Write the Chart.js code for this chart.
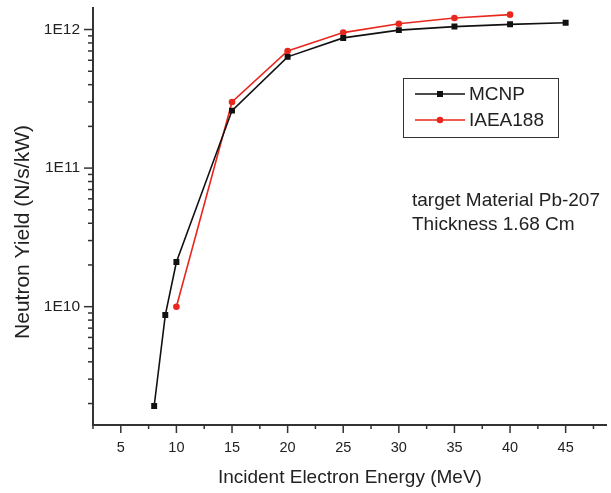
<!DOCTYPE html>
<html>
<head>
<meta charset="utf-8">
<script src="https://cdn.jsdelivr.net/npm/chart.js@4"></script>
<style>
  body { margin: 0; background: #fff; }
  #wrap { width: 611px; height: 493px; }
</style>
</head>
<body>
<div id="wrap"><canvas id="yieldChart" width="611" height="493"></canvas></div>
<script>
'use strict';

const mcnpEnergy = [8, 9, 10, 15, 20, 25, 30, 35, 40, 45];
const mcnpYield = [1.92e9, 8.7e9, 2.1e10, 2.6e11, 6.35e11, 8.7e11, 9.9e11, 1.05e12, 1.09e12, 1.12e12];
const iaeaEnergy = [10, 15, 20, 25, 30, 35, 40];
const iaeaYield = [1.0e10, 3.0e11, 7.0e11, 9.5e11, 1.1e12, 1.21e12, 1.28e12];
const xTicks = [5, 10, 15, 20, 25, 30, 35, 40, 45];
const yTicks = [1e10, 1e11, 1e12];
const yTitle = 'Neutron Yield (N/s/kW)';
const noteLines = ['target Material Pb-207', 'Thickness 1.68 Cm'];

const FONT = 'Liberation Sans, Arial, sans-serif';
const AXIS = '#333';

const ctx = document.getElementById('yieldChart');

// tick marks (major + minor), y title, legend box and the note text
const decorations = {
  id: 'decorations',
  afterDraw(chart) {
    const c = chart.ctx;
    const xs = chart.scales.x;
    const ys = chart.scales.y;
    const area = chart.chartArea;
    c.save();
    c.strokeStyle = AXIS;
    c.lineWidth = 1.5;

    // x ticks every 2.5
    for (let v = 2.5; v <= xs.max; v += 2.5) {
      const px = xs.getPixelForValue(v);
      const major = v % 5 === 0;
      c.beginPath();
      c.moveTo(px, area.bottom);
      c.lineTo(px, area.bottom + (major ? 8 : 4));
      c.stroke();
    }
    // y ticks: decades major, 2..9 minor
    for (let d = 1e9; d <= 1e12; d *= 10) {
      for (let k = 1; k <= 9; k++) {
        const v = d * k;
        if (v < ys.min || v > ys.max) continue;
        const py = ys.getPixelForValue(v);
        c.beginPath();
        c.moveTo(area.left, py);
        c.lineTo(area.left - (k === 1 ? 9 : 5), py);
        c.stroke();
      }
    }

    // y axis title (sits a bit below the axis middle in the original)
    c.save();
    c.translate(23, 232);
    c.rotate(-Math.PI / 2);
    c.font = '21px ' + FONT;
    c.fillStyle = '#222';
    c.textAlign = 'center';
    c.textBaseline = 'middle';
    c.fillText(yTitle, 0, 0);
    c.restore();

    // legend
    const lx = 403, ly = 78, lw = 155, lh = 59;
    c.lineWidth = 1;
    c.strokeStyle = '#333';
    c.strokeRect(lx + 0.5, ly + 0.5, lw, lh);
    c.font = '19px ' + FONT;
    c.textBaseline = 'middle';
    chart.data.datasets.forEach((ds, i) => {
      const rowY = ly + 16 + i * 26;
      c.strokeStyle = ds.borderColor;
      c.lineWidth = 1.5;
      c.beginPath();
      c.moveTo(lx + 12, rowY);
      c.lineTo(lx + 62, rowY);
      c.stroke();
      c.fillStyle = ds.pointBackgroundColor;
      if (ds.pointStyle === 'rect') {
        c.fillRect(lx + 37 - 3, rowY - 3, 6, 6);
      } else {
        c.beginPath();
        c.arc(lx + 37, rowY, 3.3, 0, Math.PI * 2);
        c.fill();
      }
      c.fillStyle = '#222';
      c.fillText(ds.label, lx + 66, rowY + 1);
    });

    // note
    c.font = '19px ' + FONT;
    c.fillStyle = '#222';
    noteLines.forEach((t, i) => c.fillText(t, 412, 201 + i * 24));
    c.restore();
  }
};

new Chart(ctx, {
  type: 'line',
  data: {
    datasets: [
      {
        label: 'MCNP',
        data: mcnpEnergy.map((x, i) => ({ x: x, y: mcnpYield[i] })),
        borderColor: '#111',
        backgroundColor: '#111',
        pointBackgroundColor: '#111',
        pointBorderColor: '#111',
        pointStyle: 'rect',
        pointRadius: 4.2,
        pointBorderWidth: 0,
        borderWidth: 1.6,
        tension: 0,
      },
      {
        label: 'IAEA188',
        data: iaeaEnergy.map((x, i) => ({ x: x, y: iaeaYield[i] })),
        borderColor: '#e8281e',
        backgroundColor: '#e8281e',
        pointBackgroundColor: '#e8281e',
        pointBorderColor: '#e8281e',
        pointStyle: 'circle',
        pointRadius: 3.3,
        pointBorderWidth: 0,
        borderWidth: 1.6,
        tension: 0,
      },
    ],
  },
  options: {
    responsive: false,
    animation: false,
    layout: { padding: { top: 8, right: 0, left: 0, bottom: 0 } },
    plugins: {
      legend: { display: false },
      tooltip: { enabled: false },
    },
    scales: {
      x: {
        type: 'linear',
        min: 2.5,
        max: 48.7,
        afterBuildTicks: (scale) => {
          scale.ticks = xTicks.map((v) => ({ value: v }));
        },
        afterFit: (scale) => {
          scale.height = 68;
          scale.paddingLeft = 0;
          scale.paddingRight = 0;
        },
        grid: { display: false, drawTicks: false },
        border: { display: true, color: AXIS, width: 2 },
        ticks: {
          padding: 14,
          color: '#222',
          font: { family: FONT, size: 14.5 },
          maxRotation: 0,
        },
        title: {
          display: true,
          text: 'Incident Electron Energy (MeV)',
          color: '#222',
          font: { family: FONT, size: 19 },
          padding: { top: 0, bottom: 4 },
        },
      },
      y: {
        type: 'logarithmic',
        min: 1.4e9,
        max: 1.43e12,
        afterBuildTicks: (scale) => {
          scale.ticks = yTicks.map((v) => ({ value: v }));
        },
        afterFit: (scale) => {
          scale.width = 93;
          scale.paddingTop = 0;
          scale.paddingBottom = 0;
        },
        grid: { display: false, drawTicks: false },
        border: { display: true, color: AXIS, width: 2 },
        ticks: {
          padding: 13,
          color: '#222',
          font: { family: FONT, size: 15.5 },
          callback: (v) => '1E' + Math.round(Math.log10(v)),
        },
      },
    },
  },
  plugins: [decorations],
});
</script>
</body>
</html>
